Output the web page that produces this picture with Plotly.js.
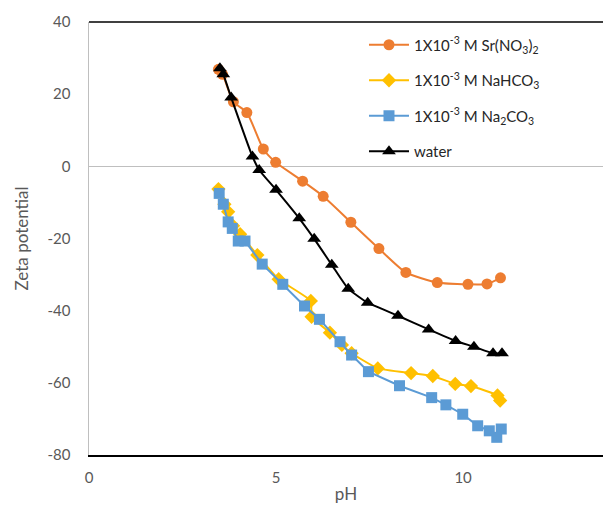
<!DOCTYPE html>
<html>
<head>
<meta charset="utf-8">
<script src="https://cdn.plot.ly/plotly-3.0.1.min.js"></script>
<style>html,body{margin:0;padding:0;background:#fff;}#chart{width:603px;height:505px;}</style>
</head>
<body>
<div id="chart"></div>
<script>
// Data
var srPH   = [3.46, 3.57, 3.86, 4.22, 4.66, 4.99, 5.71, 6.26, 7.00, 7.75, 8.47, 9.31, 10.13, 10.64, 11.00];
var srZeta = [26.9, 25.5, 17.9, 14.9, 4.8, 1.1, -4.1, -8.3, -15.5, -22.8, -29.4, -32.2, -32.7, -32.6, -30.9];

var hco3PH   = [3.46, 3.62, 3.72, 3.85, 4.04, 4.50, 5.07, 5.93, 5.95, 6.44, 6.76, 7.02, 7.72, 8.61, 9.19, 9.79, 10.21, 10.92, 10.99];
var hco3Zeta = [-6.3, -10.5, -12.6, -16.5, -18.8, -24.6, -31.3, -37.3, -41.7, -46.1, -49.5, -51.8, -56.0, -57.3, -58.1, -60.3, -60.9, -63.5, -64.9];

var co3PH   = [3.48, 3.59, 3.72, 3.83, 3.99, 4.17, 4.63, 5.18, 5.76, 6.16, 6.71, 7.02, 7.47, 8.30, 9.16, 9.54, 9.99, 10.39, 10.70, 10.90, 11.02];
var co3Zeta = [-7.5, -10.5, -15.4, -17.2, -20.7, -20.7, -27.1, -32.7, -38.7, -42.4, -48.6, -52.3, -56.9, -60.8, -64.1, -66.1, -68.7, -71.9, -73.3, -75.1, -72.8];

var waterPH   = [3.50, 3.59, 3.80, 4.37, 4.55, 5.00, 5.62, 6.02, 6.49, 6.93, 7.45, 8.26, 9.08, 9.80, 10.29, 10.80, 11.04];
var waterZeta = [27.2, 25.5, 19.1, 2.7, -1.0, -6.5, -14.4, -20.1, -27.3, -33.9, -37.8, -41.4, -45.2, -48.4, -50.0, -51.8, -51.8];

var seriesNames = [
  '1X10<sup>-3</sup> M Sr(NO<sub>3</sub>)<sub>2</sub>',
  '1X10<sup>-3</sup> M NaHCO<sub>3</sub>',
  '1X10<sup>-3</sup> M Na<sub>2</sub>CO<sub>3</sub>',
  'water'
];
var xTicks = [0, 5, 10];
var yTicks = [-80, -60, -40, -20, 0, 20, 40];

var FONT = 'Lato, "Open Sans", sans-serif';

var traces = [
  {x: srPH, y: srZeta, name: seriesNames[0], legendgroup: 'a', type: 'scatter', mode: 'lines+markers',
   line: {color: '#ED7D31', width: 2, shape: 'spline', smoothing: 0.6},
   marker: {symbol: 'circle', size: 11, color: '#ED7D31'}},
  {x: hco3PH, y: hco3Zeta, name: seriesNames[1], legendgroup: 'b', type: 'scatter', mode: 'lines+markers',
   line: {color: '#FFC000', width: 2, shape: 'spline', smoothing: 0.4},
   marker: {symbol: 'diamond', size: 11, color: '#FFC000'}},
  {x: co3PH, y: co3Zeta, name: seriesNames[2], legendgroup: 'c', type: 'scatter', mode: 'lines+markers',
   line: {color: '#5B9BD5', width: 2},
   marker: {symbol: 'square', size: 11, color: '#5B9BD5'}},
  {x: waterPH, y: waterZeta, name: seriesNames[3], legendgroup: 'd', type: 'scatter', mode: 'lines+markers',
   line: {color: '#000000', width: 2, shape: 'spline', smoothing: 0.5},
   marker: {symbol: 'triangle-up', size: 12, color: '#000000'}}
];

var layout = {
  width: 603, height: 505,
  margin: {l: 89, r: 0, t: 22, b: 50, pad: 0},
  paper_bgcolor: '#ffffff', plot_bgcolor: '#ffffff',
  font: {family: FONT, size: 15, color: '#595959'},
  showlegend: true,
  legend: {
    x: 0.535, y: 0.985, xanchor: 'left', yanchor: 'top',
    bgcolor: 'rgba(255,255,255,0)', borderwidth: 0,
    font: {family: FONT, size: 15, color: '#262626'},
    tracegroupgap: 13, itemwidth: 40
  },
  xaxis: {
    range: [0, 13.74], tickvals: xTicks, ticktext: xTicks.map(String),
    showgrid: false, zeroline: false,
    showline: true, linecolor: '#000000', linewidth: 1.5,
    ticks: 'outside', ticklen: 8, tickcolor: 'rgba(0,0,0,0)',
    tickfont: {family: FONT, size: 15, color: '#595959'},
    title: {text: 'pH', font: {family: FONT, size: 17, color: '#595959'}, standoff: 3}
  },
  yaxis: {
    range: [-80, 40], tickvals: yTicks, ticktext: yTicks.map(String),
    showgrid: false,
    zeroline: true, zerolinecolor: '#BFBFBF', zerolinewidth: 1.5,
    showline: true, linecolor: '#BFBFBF', linewidth: 1.5,
    ticks: 'outside', ticklen: 14, tickcolor: 'rgba(0,0,0,0)',
    tickfont: {family: FONT, size: 15, color: '#595959'},
    title: {text: 'Zeta potential', font: {family: FONT, size: 17, color: '#595959'}, standoff: 14}
  },
  shapes: [
    {type: 'line', xref: 'paper', yref: 'paper', x0: 0, x1: 1, y0: 1, y1: 1,
     line: {color: '#404040', width: 2}}
  ]
};

Plotly.newPlot('chart', traces, layout, {displayModeBar: false, staticPlot: true});
</script>
</body>
</html>
